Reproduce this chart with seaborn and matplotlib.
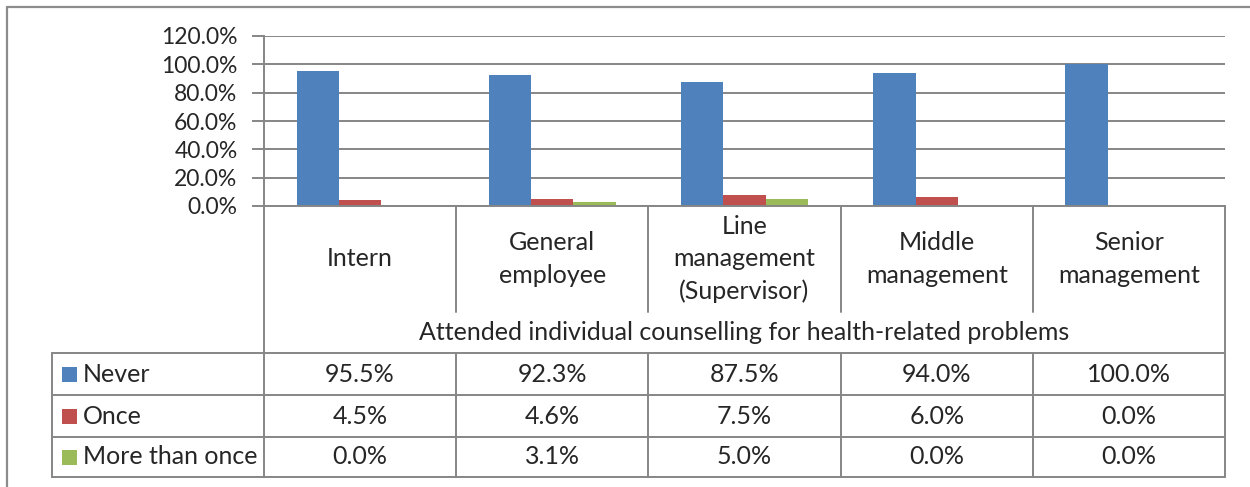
import pandas as pd
import matplotlib
matplotlib.use("Agg")
import matplotlib.pyplot as plt
import matplotlib.transforms as mtransforms
from matplotlib.patches import Rectangle
from matplotlib.ticker import PercentFormatter
import seaborn as sns

# data
levels = ["Intern", "General\nemployee", "Line\nmanagement\n(Supervisor)",
          "Middle\nmanagement", "Senior\nmanagement"]
series = ["Never", "Once", "More than once"]
never = [95.5, 92.3, 87.5, 94.0, 100.0]
once = [4.5, 4.6, 7.5, 6.0, 0.0]
more_than_once = [0.0, 3.1, 5.0, 0.0, 0.0]
colors = ["#4F81BD", "#C0504D", "#9BBB59"]
axis_title = "Attended individual counselling for health-related problems"

values = [never, once, more_than_once]
rows = []
for s, vals in zip(series, values):
    for lev, v in zip(levels, vals):
        rows.append({"level": lev, "freq": s, "pct": v})
df = pd.DataFrame(rows)

sns.set_style("white")
plt.rcParams["font.family"] = ["Lato", "DejaVu Sans"]

W, H = 1250, 487
def fx(px):
    return px / W
def fy(py):
    return 1 - py / H

grid = "#868686"
fs = 18
tick_fs = 16.5

fig = plt.figure(figsize=(W / 100, H / 100), dpi=100)
ax = fig.add_axes([fx(264), fy(206), fx(1225) - fx(264), fy(36) - fy(206)])

sns.barplot(data=df, x="level", y="pct", hue="freq", hue_order=series,
            order=levels, palette=colors, saturation=1, width=0.66, linewidth=0,
            legend=False, ax=ax)

ax.set_xlim(-0.5, len(levels) - 0.5)
ax.set_ylim(0, 120)
ax.set_yticks(range(0, 121, 20))
ax.yaxis.set_major_formatter(PercentFormatter(100, decimals=1))
ax.yaxis.grid(True, color=grid, lw=1.4)
ax.set_axisbelow(True)
ax.set_xlabel("")
ax.set_ylabel("")
ax.set_xticks([])
ax.tick_params(axis="y", length=9, width=1.4, color=grid, pad=10, labelsize=tick_fs, left=True)
for side in ["top", "right"]:
    ax.spines[side].set_visible(False)
for side in ["left", "bottom"]:
    ax.spines[side].set_color(grid)
    ax.spines[side].set_linewidth(1.4)

trans = mtransforms.blended_transform_factory(ax.transData, fig.transFigure)
n = len(levels)

# vertical dividers of the category / table area
for k in range(n + 1):
    b = k - 0.5
    if k in (0, n):
        ax.plot([b, b], [fy(206), fy(477)], color=grid, lw=1.4, transform=trans, clip_on=False)
    else:
        ax.plot([b, b], [fy(206), fy(312)], color=grid, lw=1.4, transform=trans, clip_on=False)
        ax.plot([b, b], [fy(353), fy(477)], color=grid, lw=1.4, transform=trans, clip_on=False)

# horizontal table lines
row_lines = [353, 395, 437, 477]
for yl in row_lines:
    fig.add_artist(plt.Line2D([fx(52), fx(1225)], [fy(yl), fy(yl)], color=grid, lw=1.4))
fig.add_artist(plt.Line2D([fx(52), fx(52)], [fy(353), fy(477)], color=grid, lw=1.4))

# category labels
for i, lev in enumerate(levels):
    ax.text(i, fy(259), lev, transform=trans, ha="center", va="center",
            fontsize=fs, linespacing=1.5)
ax.text((n - 1) / 2, fy(333), axis_title, transform=trans, ha="center", va="center", fontsize=fs)

# data table
for r, (s, vals, c) in enumerate(zip(series, values, colors)):
    yc = (row_lines[r] + row_lines[r + 1]) / 2
    fig.add_artist(Rectangle((fx(62), fy(yc + 7.5)), 15 / W, 15 / H, color=c, lw=0))
    fig.text(fx(83), fy(yc), s, ha="left", va="center", fontsize=fs)
    for i, v in enumerate(vals):
        ax.text(i, fy(yc), f"{v:.1f}%", transform=trans, ha="center", va="center", fontsize=fs)

# chart frame (only top and left edges fall inside the image)
fig.add_artist(plt.Line2D([fx(7), 1], [fy(7), fy(7)], color="#8C8C8C", lw=1.6))
fig.add_artist(plt.Line2D([fx(7), fx(7)], [fy(7), 0], color="#8C8C8C", lw=1.6))

fig.savefig("out.png", dpi=100)
